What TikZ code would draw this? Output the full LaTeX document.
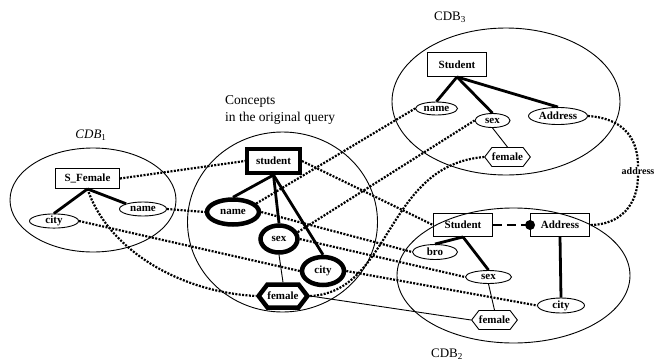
\documentclass[tikz,border=0pt]{standalone}
\usepackage{fontspec}
\setmainfont{Liberation Serif}
\usetikzlibrary{shapes.geometric,shapes.symbols}
\begin{document}
\begin{tikzpicture}[x=1pt,y=-1pt,
  lbl/.style={font=\fontsize{11}{12}\selectfont\bfseries, inner sep=0pt},
  ent/.style={lbl, draw, line width=0.9pt, rectangle},
  att/.style={lbl, draw, line width=0.9pt, ellipse},
  val/.style={lbl, draw, line width=0.9pt, signal, signal to=west and east, signal pointer angle=105},
  qent/.style={ent, line width=4pt},
  qatt/.style={att, line width=4.5pt},
  qval/.style={val, line width=4.5pt},
  rel/.style={line width=2.8pt},
  finline/.style={line width=0.9pt},
  match/.style={line width=2.2pt, dash pattern=on 2pt off 1.4pt},
  region/.style={line width=0.9pt},
  dblabel/.style={font=\fontsize{13}{15}\selectfont, inner sep=0pt},
]
\useasboundingbox (0,0) rectangle (662,362);

% regions
\draw[region] (93,200) ellipse [x radius=83pt, y radius=52pt];
\draw[region] (282.5,222) ellipse [x radius=95pt, y radius=90pt];
\draw[region] (506,101.5) ellipse [x radius=114pt, y radius=73.5pt];
\draw[region] (513.5,275.5) ellipse [x radius=116.5pt, y radius=67.5pt];

% labels
\node[dblabel] (cdb1) at (91,135) {\textit{CDB}\textsubscript{1}};
\node[dblabel] (cdb3) at (450,17) {CDB\textsubscript{3}};
\node[dblabel] (cdb2) at (447,354) {CDB\textsubscript{2}};
\node[font=\fontsize{13.5}{17}\selectfont, align=left, anchor=north west, inner sep=0pt] (concepts) at (225,95) {Concepts\\in the original query};

% CDB1
\node[ent, minimum width=64pt, minimum height=20pt] (sfem) at (87.5,178.5) {S\_Female};
\node[att, minimum width=49pt, minimum height=14pt] (city1) at (54,221) {city};
\node[att, minimum width=47pt, minimum height=14pt] (name1) at (143,209) {name};

% query
\node[qent, minimum width=53pt, minimum height=24pt] (qstud) at (273.5,161) {student};
\node[qatt, minimum width=52pt, minimum height=25pt] (qname) at (233,212) {name};
\node[qatt, minimum width=37pt, minimum height=27pt] (qsex) at (279,239) {sex};
\node[qatt, minimum width=42pt, minimum height=28pt] (qcity) at (323,271) {city};
\node[qval, minimum width=42pt, minimum height=23pt] (qfem) at (283,296) {female};

% CDB3
\node[ent, minimum width=59pt, minimum height=24pt] (stud3) at (457,64.5) {Student};
\node[att, minimum width=42pt, minimum height=13pt] (name3) at (436.5,108.5) {name};
\node[att, minimum width=35pt, minimum height=14pt] (sex3) at (492.5,120.5) {sex};
\node[att, minimum width=59pt, minimum height=17pt] (addr3) at (558,116) {Address};
\node[val, minimum width=44pt, minimum height=19pt] (fem3) at (507.5,157) {female};

% CDB2
\node[ent, minimum width=59pt, minimum height=23pt] (stud2) at (463,225) {Student};
\node[ent, minimum width=59pt, minimum height=23pt] (addr2) at (560,225) {Address};
\node[att, minimum width=45pt, minimum height=15pt] (bro) at (435,252) {bro};
\node[att, minimum width=46pt, minimum height=13pt] (sex2) at (488.5,277) {sex};
\node[att, minimum width=47pt, minimum height=15pt] (city2) at (561,305.5) {city};
\node[val, minimum width=44pt, minimum height=19pt] (fem2) at (494.5,320) {female};
\node[circle, fill, inner sep=0pt, minimum size=10pt] (dot) at (addr2.west) {};

\node[lbl, font=\fontsize{10}{12}\selectfont\bfseries, inner sep=1pt] (addrlbl) at (638,171) {address};

% structural edges
\draw[rel] (sfem.south) -- (city1.north);
\draw[rel] (sfem.south) -- (name1.north west);
\draw[rel] (qstud.south) -- (qname.north);
\draw[rel] (qstud.south) -- (qsex.north);
\draw[rel] (qstud.south) -- (qcity.north);
\draw[finline] (qsex.south) -- (qfem.north);
\draw[rel] (stud3.south) -- (name3.north);
\draw[rel] (stud3.south) -- (sex3.north);
\draw[rel] (stud3.south) -- (addr3.north);
\draw[finline] (sex3.south) -- (fem3.north);
\draw[rel] (stud2.south) -- (bro.north);
\draw[rel] (stud2.south) -- (sex2.north);
\draw[rel] (addr2.south) -- (city2.north);
\draw[finline] (sex2.south) -- (fem2.north);
\draw[rel, dash pattern=on 9pt off 5pt] (stud2.east) -- (dot.center);

% matches
\draw[match] (sfem.east) -- (qstud.west);
\draw[match] (name1.east) -- (qname.west);
\draw[match] (city1.east) -- (qcity.west);
\draw[match] (sfem.south) .. controls (108,250) and (180,292) .. (qfem.west);
\draw[match] (qstud.east) -- (stud2.west);
\draw[match] (qname.20) -- (name3.west);
\draw[match] (qname.east) -- (bro.west);
\draw[match] (qsex.20) -- (sex3.west);
\draw[match] (qsex.east) -- (sex2.west);
\draw[match] (qcity.east) -- (city2.west);
\draw[match] (qfem.east) .. controls (392,292) and (385,165) .. (fem3.west);
\draw[finline] (qfem.east) -- (fem2.west);
\draw[match] (addr3.east) .. controls (620,118) and (638,135) .. (addrlbl.north);
\draw[match] (addrlbl.south) .. controls (638,205) and (620,225) .. (addr2.east);
\end{tikzpicture}
\end{document}
